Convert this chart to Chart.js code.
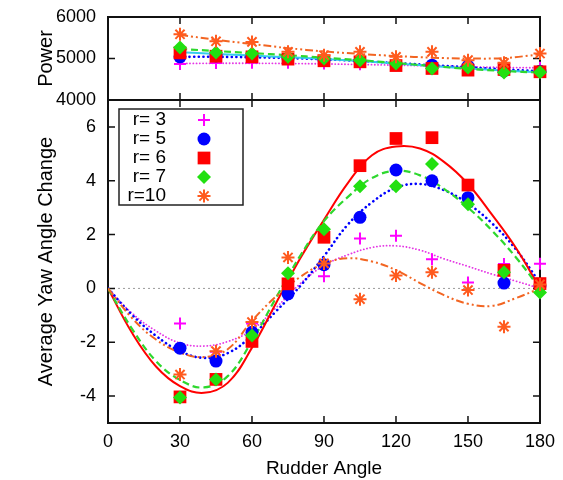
<!DOCTYPE html>
<html>
<head>
<meta charset="utf-8">
<script src="https://cdn.jsdelivr.net/npm/chart.js@4.4.0/dist/chart.umd.min.js"></script>
<style>
  html, body { margin: 0; padding: 0; background: #fff; }
  #wrap { position: relative; width: 563px; height: 480px; }
  #wrap canvas { position: absolute; left: 0; top: 0; }
</style>
</head>
<body>
<div id="wrap">
  <canvas id="yawChart" width="563" height="480" style="width:563px;height:480px"></canvas>
  <canvas id="powerChart" width="563" height="111" style="width:563px;height:111px"></canvas>
</div>
<script>
// measured rudder angles
const angles = [30, 45, 60, 75, 90, 105, 120, 135, 150, 165, 180];
const fitAngles = [0, 10, 20, 30, 40, 50, 60, 70, 80, 90, 100, 110, 120, 130, 140, 150, 160, 170, 180];
const xTicks = [0, 30, 60, 90, 120, 150, 180];
const yawTicks = [-4, -2, 0, 2, 4, 6];
const powerTicks = [4000, 5000, 6000];
const seriesNames = ['r= 3', 'r= 5', 'r= 6', 'r= 7', 'r=10'];

// average yaw angle change (points)
const yaw3 = [-1.3, -2.35, -1.3, 0.15, 0.45, 1.85, 1.96, 1.08, 0.22, 0.91, 0.92];
const yaw5 = [-2.22, -2.7, -1.63, -0.2, 0.88, 2.64, 4.4, 4.0, 3.37, 0.2, 0.1];
const yaw6 = [-4.03, -3.38, -1.97, 0.17, 1.9, 4.56, 5.57, 5.6, 3.84, 0.67, 0.18];
const yaw7 = [-4.05, -3.38, -1.75, 0.56, 2.2, 3.8, 3.8, 4.62, 3.13, 0.6, -0.15];
const yaw10 = [-3.2, -2.33, -1.25, 1.15, 0.93, -0.4, 0.48, 0.6, -0.06, -1.42, 0.15];

// fitted curves
const yawFit3 = [0, -0.92, -1.58, -2.03, -2.14, -1.97, -1.54, -0.72, 0.17, 0.85, 1.25, 1.52, 1.58, 1.42, 1.1, 0.82, 0.53, 0.27, 0];
const yawFit5 = [0, -0.98, -1.76, -2.33, -2.58, -2.4, -1.75, -0.85, 0.08, 1.2, 2.38, 3.2, 3.74, 3.88, 3.65, 3.15, 2.42, 1.45, 0.2];
const yawFit6 = [0, -1.65, -2.9, -3.63, -3.88, -3.5, -2.2, -0.55, 1.1, 2.55, 3.92, 4.95, 5.27, 5.2, 4.7, 3.88, 2.74, 1.5, 0];
const yawFit7 = [0, -1.5, -2.7, -3.4, -3.68, -3.25, -1.95, -0.35, 1.2, 2.5, 3.4, 4.1, 4.37, 4.2, 3.7, 3.0, 2.15, 1.15, 0];
const yawFit10 = [0, -1.1, -1.9, -2.38, -2.55, -2.25, -1.2, -0.3, 0.42, 0.92, 1.12, 1.0, 0.68, 0.2, -0.25, -0.57, -0.65, -0.36, 0];

// power (points)
const power3 = [4870, 4890, 4900, 4900, 4880, 4860, 4850, 4820, 4790, 4780, 4780];
const power5 = [5040, 5060, 5050, 5000, 4960, 4930, 4850, 4840, 4815, 4700, 4690];
const power6 = [5135, 5055, 5040, 4985, 4945, 4920, 4830, 4760, 4720, 4735, 4680];
const power7 = [5265, 5145, 5120, 5040, 5000, 4960, 4880, 4760, 4785, 4660, 4670];
const power10 = [5583, 5415, 5400, 5160, 5080, 5160, 5040, 5160, 4960, 4895, 5120];

const powerFit3 = [4880, 4885, 4885, 4880, 4870, 4855, 4840, 4820, 4800, 4785, 4775];
const powerFit5 = [5040, 5040, 5030, 5010, 4980, 4940, 4890, 4840, 4790, 4740, 4690];
const powerFit6 = [5150, 5110, 5070, 5030, 4990, 4940, 4880, 4820, 4760, 4710, 4670];
const powerFit7 = [5230, 5180, 5130, 5080, 5020, 4960, 4890, 4820, 4750, 4700, 4660];
const powerFit10 = [5570, 5450, 5350, 5250, 5170, 5110, 5060, 5020, 5000, 5010, 5100];

const FONT = '"Liberation Sans", Arial, Helvetica, sans-serif';

const styles = [
    { color: '#ff00ff', line: '#e535e5', pointStyle: 'cross', radius: 6, bw: 2, dash: [0.1, 3.2], cap: 'round', lw: 1.8 },
    { color: '#0000ff', line: '#0000ff', pointStyle: 'circle', radius: 6.5, bw: 0, dash: [0.1, 4.6], cap: 'round', lw: 2.6 },
    { color: '#ff0000', line: '#ff0000', pointStyle: 'rect', radius: 9, bw: 0, dash: [], cap: 'butt', lw: 2 },
    { color: '#22e011', line: '#2ed82e', pointStyle: 'rectRot', radius: 7, bw: 0, dash: [7, 4], cap: 'butt', lw: 2.2 },
    { color: '#ff5a1e', line: '#f26522', pointStyle: 'star', radius: 6.5, bw: 2, dash: [8, 3, 2, 3, 2, 3], cap: 'butt', lw: 2 }
];

function pts(xs, ys) {
    return xs.map((x, i) => ({ x: x, y: ys[i] }));
}

function buildDatasets(pointSeries, fitSeries, fitXs, fitColors) {
    const lines = fitSeries.map((ys, i) => ({
        label: seriesNames[i] + ' fit',
        data: pts(fitXs, ys),
        showLine: true,
        pointRadius: 0,
        borderColor: fitColors ? fitColors[i] : styles[i].line,
        borderWidth: styles[i].lw,
        borderDash: styles[i].dash,
        borderCapStyle: styles[i].cap,
        tension: 0.4,
        fill: false,
        order: 10 - i
    }));
    const marks = pointSeries.map((ys, i) => ({
        label: seriesNames[i],
        data: pts(angles, ys),
        showLine: false,
        pointStyle: styles[i].pointStyle,
        pointRadius: styles[i].radius,
        pointBackgroundColor: styles[i].color,
        pointBorderColor: styles[i].color,
        pointBorderWidth: styles[i].bw,
        clip: false,
        order: 5 - i
    }));
    return lines.concat(marks);
}

const framePlugin = {
    id: 'frame',
    beforeDatasetsDraw(chart, args, opts) {
        const { ctx, chartArea: a, scales } = chart;
        ctx.save();
        if (opts.zeroLine) {
            const y0 = scales.y.getPixelForValue(0);
            ctx.strokeStyle = '#9a9a9a';
            ctx.lineWidth = 1;
            ctx.setLineDash([2, 3]);
            ctx.beginPath();
            ctx.moveTo(a.left, y0);
            ctx.lineTo(a.right, y0);
            ctx.stroke();
            ctx.setLineDash([]);
        }
        const t = 7;
        ctx.strokeStyle = '#111';
        ctx.lineWidth = 1.5;
        ctx.beginPath();
        xTicks.forEach(v => {
            const px = scales.x.getPixelForValue(v);
            if (px <= a.left + 1 || px >= a.right - 1) return;
            ctx.moveTo(px, a.bottom); ctx.lineTo(px, a.bottom - t);
            ctx.moveTo(px, a.top); ctx.lineTo(px, a.top + t);
        });
        opts.yTicks.forEach(v => {
            const py = scales.y.getPixelForValue(v);
            if (py <= a.top + 1 || py >= a.bottom - 1) return;
            ctx.moveTo(a.left, py); ctx.lineTo(a.left + t, py);
            ctx.moveTo(a.right, py); ctx.lineTo(a.right - t, py);
        });
        ctx.stroke();
        ctx.lineWidth = 2;
        ctx.strokeRect(a.left, a.top, a.width, a.height);
        ctx.restore();
    }
};

const keyPlugin = {
    id: 'keyBox',
    afterDraw(chart) {
        const { ctx, chartArea: a } = chart;
        const left = a.left + 11, top = a.top + 9;
        ctx.save();
        ctx.fillStyle = '#fff';
        ctx.fillRect(left, top, 124, 96);
        ctx.strokeStyle = '#222';
        ctx.lineWidth = 1.5;
        ctx.strokeRect(left, top, 124, 96);
        ctx.font = '19px ' + FONT;
        ctx.textAlign = 'right';
        ctx.textBaseline = 'middle';
        seriesNames.forEach((name, i) => {
            const yy = top + 11 + i * 19;
            ctx.fillStyle = '#000';
            ctx.fillText(name, left + 47, yy);
            const s = styles[i];
            ctx.fillStyle = s.color;
            ctx.strokeStyle = s.color;
            ctx.lineWidth = s.bw;
            Chart.helpers.drawPoint(ctx, { pointStyle: s.pointStyle, radius: s.radius, borderWidth: s.bw, rotation: 0 }, left + 85, yy);
        });
        ctx.restore();
    }
};

const tickFont = { family: FONT, size: 18 };
const titleFont = { family: FONT, size: 20 };

function fixedTicks(list) {
    return scale => { scale.ticks = list.map(v => ({ value: v })); };
}

// fixed gutter on the left so both panels line up
function leftGutter(scale) {
    scale.width = 108;
    scale.paddingTop = 0;
    scale.paddingBottom = 0;
}

new Chart(document.getElementById('yawChart'), {
    type: 'scatter',
    data: { datasets: buildDatasets([yaw3, yaw5, yaw6, yaw7, yaw10], [yawFit3, yawFit5, yawFit6, yawFit7, yawFit10], fitAngles) },
    options: {
        responsive: false,
        animation: false,
        layout: { padding: { top: 100, right: 23, bottom: 0, left: 0 } },
        plugins: {
            legend: { display: false },
            tooltip: { enabled: false },
            frame: { zeroLine: true, yTicks: yawTicks }
        },
        scales: {
            x: {
                type: 'linear', min: 0, max: 180,
                grid: { display: false, drawTicks: false },
                border: { display: false },
                afterBuildTicks: fixedTicks(xTicks),
                afterFit: s => { s.height = 57; },
                ticks: { padding: 8, font: tickFont, color: '#000', maxRotation: 0, callback: v => String(v) },
                title: { display: true, text: 'Rudder Angle', font: { family: FONT, size: 19 }, color: '#000', padding: { top: 0, bottom: 0 } }
            },
            y: {
                type: 'linear', min: -5, max: 7,
                grid: { display: false, drawTicks: false },
                border: { display: false },
                afterBuildTicks: fixedTicks(yawTicks),
                afterFit: leftGutter,
                ticks: { padding: 12, font: tickFont, color: '#000', callback: v => String(v) },
                title: { display: true, text: 'Average Yaw Angle Change', font: titleFont, color: '#000', padding: { top: 34, bottom: 0 } }
            }
        }
    },
    plugins: [framePlugin, keyPlugin]
});

new Chart(document.getElementById('powerChart'), {
    type: 'scatter',
    data: { datasets: buildDatasets([power3, power5, power6, power7, power10], [powerFit3, powerFit5, powerFit6, powerFit7, powerFit10], angles,
        ['#e535e5', '#0000ff', '#33ccee', '#2ed82e', '#f26522']) },
    options: {
        responsive: false,
        animation: false,
        layout: { padding: { top: 17, right: 23, bottom: 11, left: 0 } },
        plugins: {
            legend: { display: false },
            tooltip: { enabled: false },
            frame: { zeroLine: false, yTicks: powerTicks }
        },
        scales: {
            x: { type: 'linear', min: 0, max: 180, display: false },
            y: {
                type: 'linear', min: 4000, max: 6000,
                grid: { display: false, drawTicks: false },
                border: { display: false },
                afterBuildTicks: fixedTicks(powerTicks),
                afterFit: leftGutter,
                ticks: { padding: 12, font: tickFont, color: '#000', callback: v => String(v) },
                title: { display: true, text: 'Power', font: titleFont, color: '#000', padding: { top: 34, bottom: 0 } }
            }
        }
    },
    plugins: [framePlugin]
});
</script>
</body>
</html>
